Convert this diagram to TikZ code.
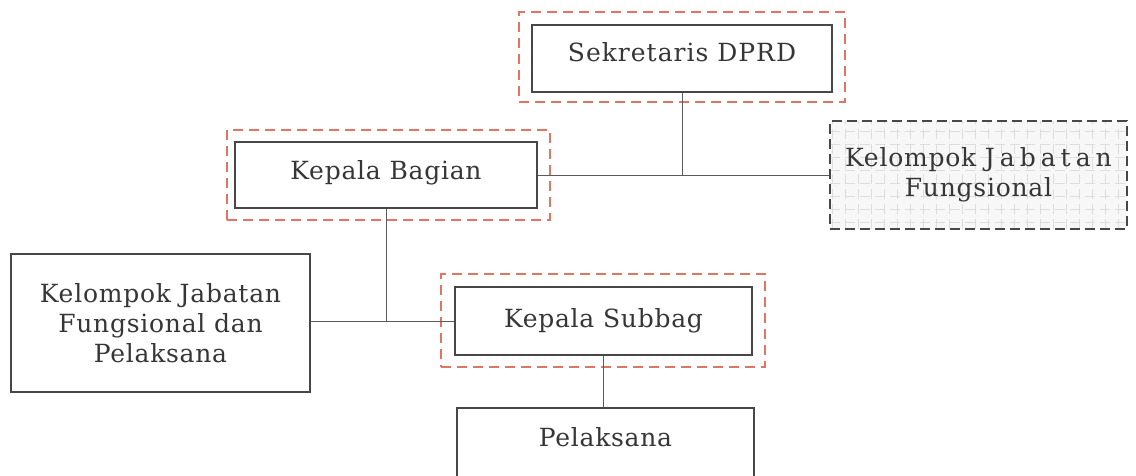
\documentclass[tikz,border=0pt]{standalone}
\usepackage{fontspec}
\setmainfont{DejaVu Serif}
\definecolor{boxc}{HTML}{474747}
\definecolor{redc}{HTML}{E27562}
\definecolor{linec}{HTML}{5A5A5A}
\definecolor{textc}{HTML}{363636}
\definecolor{gridc}{HTML}{DDDDDD}
\newcommand{\spaced}[2]{{\addfontfeature{LetterSpace=#1}#2}}
\begin{document}
\begin{tikzpicture}[x=1pt,y=-1pt,
  orgbox/.style={draw=boxc, line width=2.6pt, fill=white, text=textc, align=center,
    inner sep=0pt, font=\fontsize{25}{30}\selectfont\addfontfeature{LetterSpace=3}},
  oneline/.style={text height=19pt, text depth=#1},
  redframe/.style={draw=redc, line width=2.6pt, dash pattern=on 10pt off 6pt, inner sep=0pt},
  conn/.style={draw=linec, line width=1pt}]
\useasboundingbox (0,0) rectangle (1136,475);
\clip (0,0) rectangle (1136,475);
\fill[white] (0,0) rectangle (1136,475);

\node[orgbox, oneline=13pt, minimum width=300pt, minimum height=67pt] (sek) at (682,58.5) {\spaced{4}{Sekretaris DPRD}};
\node[orgbox, oneline=11pt, minimum width=302pt, minimum height=66pt] (kb) at (386,175) {Kepala Bagian};
\node[orgbox, dash pattern=on 10pt off 5pt, fill=gray!6, minimum width=297pt, minimum height=108pt,
  path picture={\draw[gridc, line width=0.8pt, step=13pt] (path picture bounding box.south west) grid (path picture bounding box.north east);}]
  (kjf) at (978.5,175) {Kelompok \spaced{20}{Jabatan}\\Fungsional};
\node[orgbox, minimum width=299pt, minimum height=138pt] (kjfp) at (160.5,323) {Kelompok Jabatan\\Fungsional dan\\Pelaksana};
\node[orgbox, oneline=7pt, minimum width=297pt, minimum height=68pt] (ks) at (603.5,321) {Kepala Subbag};
\node[orgbox, oneline=13pt, minimum width=297pt, minimum height=70pt] (pel) at (605.5,443) {Pelaksana};

\node[redframe, minimum width=326pt, minimum height=90pt] (sekr) at (682,57) {};
\node[redframe, minimum width=323pt, minimum height=90pt] (kbr) at (388.5,175) {};
\node[redframe, minimum width=324pt, minimum height=93pt] (ksr) at (603,320.5) {};

\draw[conn] (sek.south) -- (sek.south |- kb.east);
\draw[conn] (kb.east) -- (kjf.west);
\draw[conn] (kb.south) -- (kb.south |- ks.west);
\draw[conn] (kjfp.east |- ks.west) -- (ks.west);
\draw[conn] (ks.south) -- (ks.south |- pel.north);
\end{tikzpicture}
\end{document}
